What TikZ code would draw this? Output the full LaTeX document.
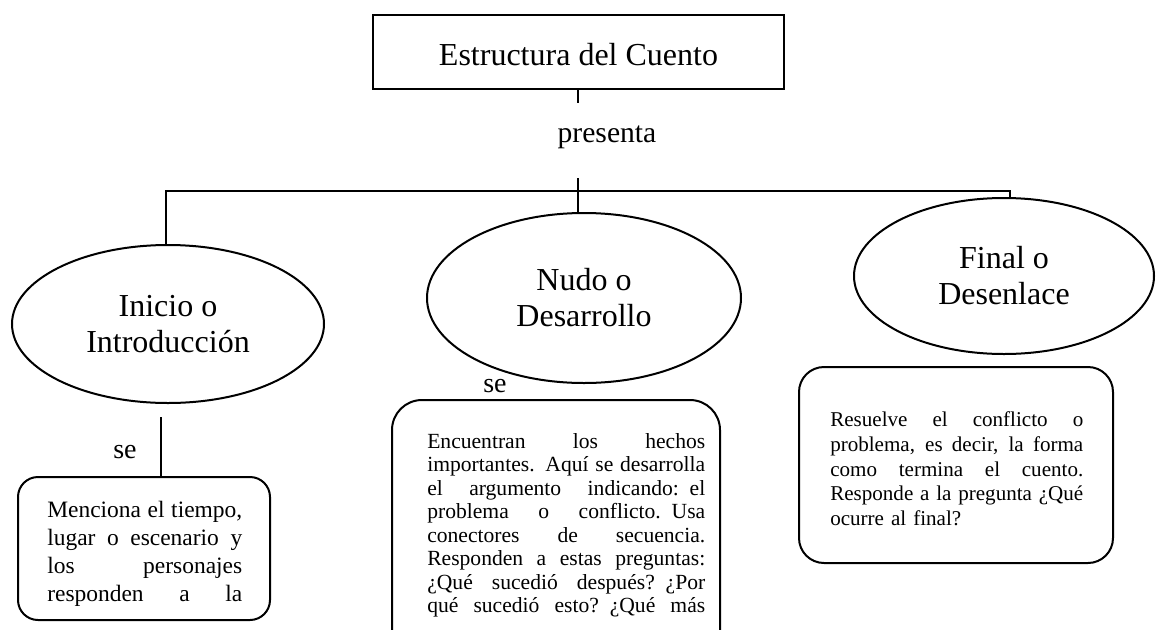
\documentclass[tikz,border=0pt]{standalone}
\usepackage{fontspec}
\setmainfont{Liberation Serif}
\usetikzlibrary{shapes.geometric}
\newcommand\jline[2]{\leavevmode\hbox to #1{\spaceskip=.25em plus 1fil minus .08em\relax #2}}
\begin{document}
\begin{tikzpicture}[x=0.75pt,y=-0.75pt,
  conn/.style={draw,line width=0.8pt},
  titlebox/.style={draw,line width=1.5pt,rectangle,inner sep=0pt},
  oval/.style={ellipse,draw,line width=1.5pt,inner sep=0pt,align=center,font=\fontsize{24}{27}\selectfont},
  rbox/.style={draw,line width=1.5pt,rectangle,inner sep=0pt},
  body/.style={anchor=north west,inner sep=0pt,align=left},
  lbl/.style={anchor=base,inner sep=0pt}
]
\useasboundingbox (0,0) rectangle (1157,629);
\clip (0,0) rectangle (1157,629);

% title
\node[titlebox,minimum width=308.25pt,minimum height=55.5pt] (title) at (578.5,52) {};
\node[lbl,font=\fontsize{24}{28}\selectfont] (titletext) at (578.5,65) {Estructura del Cuento};
\coordinate (p1) at (578,103);
\draw[conn] (p1 |- title.south) -- (p1);
\node[lbl,font=\fontsize{22.2}{26}\selectfont] (pres) at (607,142) {presenta};

% ellipses
\node[oval,minimum width=234pt,minimum height=118.5pt] (inicio) at (168,324) {Inicio o\\Introducción};
\node[oval,minimum width=235.5pt,minimum height=127.5pt] (nudo) at (584,298) {Nudo o\\Desarrollo};
\node[oval,minimum width=225pt,minimum height=117pt] (final) at (1004,276) {Final o\\Desenlace};

% tree connectors
\coordinate (p2) at (578,178);
\coordinate (hl) at (166,191);
\coordinate (hr) at (1010,191);
\draw[conn] (p2) -- (p2 |- nudo.north);
\draw[conn] (inicio.north -| hl) -- (hl) -- (hr) -- (hr |- final.north);

% rounded boxes
\node[rbox,rounded corners=15pt,minimum width=189pt,minimum height=107.25pt] (lbox) at (144,548.5) {};
\node[rbox,rounded corners=22.5pt,minimum width=246pt,minimum height=210pt] (mbox) at (556,540) {};
\node[rbox,rounded corners=18.75pt,minimum width=235.5pt,minimum height=147pt] (rbox) at (956,465) {};

% "se" labels and connector
\node[lbl,font=\fontsize{21}{25}\selectfont] (se1) at (125,458) {se};
\node[lbl,font=\fontsize{21}{25}\selectfont] (se2) at (495,392) {se};
\coordinate (q1) at (161,417);
\draw[conn] (q1) -- (q1 |- lbox.north);

% box texts
\node[body,text width=146.25pt,font=\fontsize{17.6}{21}\selectfont] (ltext) at (47,497.4)
 {\strut\jline{146.25pt}{Menciona el tiempo,}\\\jline{146.25pt}{lugar o escenario y}\\\jline{146.25pt}{los personajes}\\\jline{146.25pt}{responden a la}};
\node[body,text width=208.5pt,font=\fontsize{16.2}{17.6}\selectfont] (mtext) at (427,431.5)
 {\strut\jline{208.5pt}{Encuentran los hechos}\\\jline{208.5pt}{importantes. Aquí se desarrolla}\\\jline{208.5pt}{el argumento indicando: el}\\\jline{208.5pt}{problema o conflicto. Usa}\\\jline{208.5pt}{conectores de secuencia.}\\\jline{208.5pt}{Responden a estas preguntas:}\\\jline{208.5pt}{¿Qué sucedió después? ¿Por}\\\jline{208.5pt}{qué sucedió esto? ¿Qué más}};
\node[body,text width=189.75pt,font=\fontsize{15.8}{18.56}\selectfont] (rtext) at (830,409)
 {\strut\jline{189.75pt}{Resuelve el conflicto o}\\\jline{189.75pt}{problema, es decir, la forma}\\\jline{189.75pt}{como termina el cuento.}\\\jline{189.75pt}{Responde a la pregunta ¿Qué}\\ocurre al final?};
\end{tikzpicture}
\end{document}
